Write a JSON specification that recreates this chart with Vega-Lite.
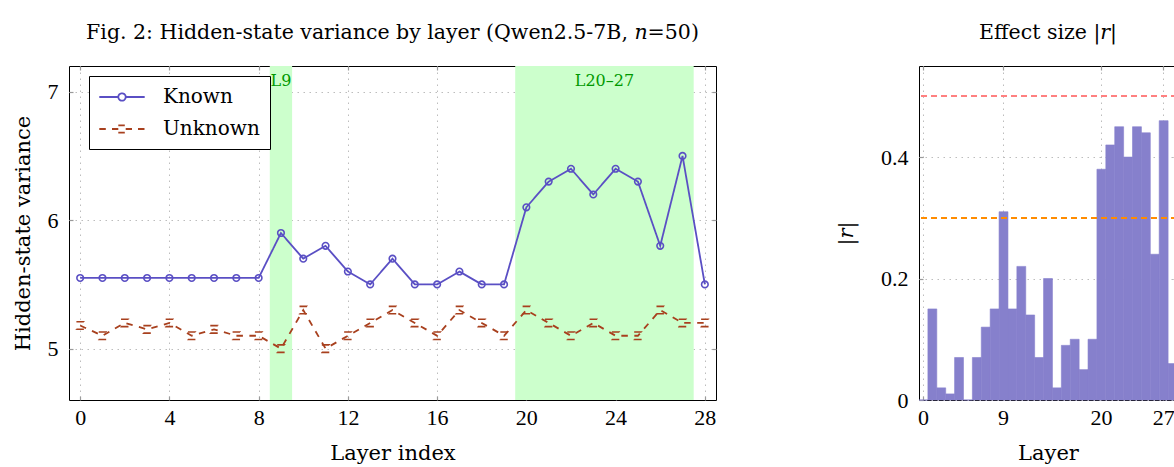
{
  "$schema": "https://vega.github.io/schema/vega-lite/v6.json",
  "background": "white",
  "padding": {"left": 11, "top": 22, "right": 0, "bottom": 0},
  "spacing": 117,
  "datasets": {
    "variance": [
      {"layer": 0, "series": "Known", "value": 5.55},
      {"layer": 1, "series": "Known", "value": 5.55},
      {"layer": 2, "series": "Known", "value": 5.55},
      {"layer": 3, "series": "Known", "value": 5.55},
      {"layer": 4, "series": "Known", "value": 5.55},
      {"layer": 5, "series": "Known", "value": 5.55},
      {"layer": 6, "series": "Known", "value": 5.55},
      {"layer": 7, "series": "Known", "value": 5.55},
      {"layer": 8, "series": "Known", "value": 5.55},
      {"layer": 9, "series": "Known", "value": 5.9},
      {"layer": 10, "series": "Known", "value": 5.7},
      {"layer": 11, "series": "Known", "value": 5.8},
      {"layer": 12, "series": "Known", "value": 5.6},
      {"layer": 13, "series": "Known", "value": 5.5},
      {"layer": 14, "series": "Known", "value": 5.7},
      {"layer": 15, "series": "Known", "value": 5.5},
      {"layer": 16, "series": "Known", "value": 5.5},
      {"layer": 17, "series": "Known", "value": 5.6},
      {"layer": 18, "series": "Known", "value": 5.5},
      {"layer": 19, "series": "Known", "value": 5.5},
      {"layer": 20, "series": "Known", "value": 6.1},
      {"layer": 21, "series": "Known", "value": 6.3},
      {"layer": 22, "series": "Known", "value": 6.4},
      {"layer": 23, "series": "Known", "value": 6.2},
      {"layer": 24, "series": "Known", "value": 6.4},
      {"layer": 25, "series": "Known", "value": 6.3},
      {"layer": 26, "series": "Known", "value": 5.8},
      {"layer": 27, "series": "Known", "value": 6.5},
      {"layer": 28, "series": "Known", "value": 5.5},
      {"layer": 0, "series": "Unknown", "value": 5.18},
      {"layer": 1, "series": "Unknown", "value": 5.1},
      {"layer": 2, "series": "Unknown", "value": 5.2},
      {"layer": 3, "series": "Unknown", "value": 5.15},
      {"layer": 4, "series": "Unknown", "value": 5.2},
      {"layer": 5, "series": "Unknown", "value": 5.1},
      {"layer": 6, "series": "Unknown", "value": 5.15},
      {"layer": 7, "series": "Unknown", "value": 5.1},
      {"layer": 8, "series": "Unknown", "value": 5.1},
      {"layer": 9, "series": "Unknown", "value": 5.0},
      {"layer": 10, "series": "Unknown", "value": 5.3},
      {"layer": 11, "series": "Unknown", "value": 5.0},
      {"layer": 12, "series": "Unknown", "value": 5.1},
      {"layer": 13, "series": "Unknown", "value": 5.2},
      {"layer": 14, "series": "Unknown", "value": 5.3},
      {"layer": 15, "series": "Unknown", "value": 5.2},
      {"layer": 16, "series": "Unknown", "value": 5.1},
      {"layer": 17, "series": "Unknown", "value": 5.3},
      {"layer": 18, "series": "Unknown", "value": 5.2},
      {"layer": 19, "series": "Unknown", "value": 5.1},
      {"layer": 20, "series": "Unknown", "value": 5.3},
      {"layer": 21, "series": "Unknown", "value": 5.2},
      {"layer": 22, "series": "Unknown", "value": 5.1},
      {"layer": 23, "series": "Unknown", "value": 5.2},
      {"layer": 24, "series": "Unknown", "value": 5.1},
      {"layer": 25, "series": "Unknown", "value": 5.1},
      {"layer": 26, "series": "Unknown", "value": 5.3},
      {"layer": 27, "series": "Unknown", "value": 5.2},
      {"layer": 28, "series": "Unknown", "value": 5.2}
    ],
    "regions": [
      {"start": 8.5, "end": 9.5, "label": "L9"},
      {"start": 19.5, "end": 27.5, "label": "L20–27"}
    ],
    "effect": [
      {"layer": 0, "r": 0.0},
      {"layer": 1, "r": 0.15},
      {"layer": 2, "r": 0.02},
      {"layer": 3, "r": 0.01},
      {"layer": 4, "r": 0.07},
      {"layer": 5, "r": 0.0},
      {"layer": 6, "r": 0.07},
      {"layer": 7, "r": 0.12},
      {"layer": 8, "r": 0.15},
      {"layer": 9, "r": 0.31},
      {"layer": 10, "r": 0.15},
      {"layer": 11, "r": 0.22},
      {"layer": 12, "r": 0.14},
      {"layer": 13, "r": 0.07},
      {"layer": 14, "r": 0.2},
      {"layer": 15, "r": 0.02},
      {"layer": 16, "r": 0.09},
      {"layer": 17, "r": 0.1},
      {"layer": 18, "r": 0.05},
      {"layer": 19, "r": 0.1},
      {"layer": 20, "r": 0.38},
      {"layer": 21, "r": 0.42},
      {"layer": 22, "r": 0.45},
      {"layer": 23, "r": 0.4},
      {"layer": 24, "r": 0.45},
      {"layer": 25, "r": 0.44},
      {"layer": 26, "r": 0.24},
      {"layer": 27, "r": 0.46},
      {"layer": 28, "r": 0.06}
    ]
  },
  "hconcat": [
    {
      "width": 647,
      "height": 334,
      "title": {"text": "Fig. 2: Hidden-state variance by layer (Qwen2.5-7B, 𝑛=50)"},
      "resolve": {"axis": {"x": "independent", "y": "independent"}},
      "layer": [
        {
          "data": {"name": "regions"},
          "mark": {"type": "rect", "color": "#ccffcc"},
          "encoding": {
            "x": {"field": "start", "type": "quantitative", "scale": {"domain": [-0.5, 28.5], "nice": false, "zero": false}, "axis": null},
            "x2": {"field": "end"}
          }
        },
        {
          "data": {"name": "regions"},
          "transform": [{"calculate": "(datum.start + datum.end) / 2", "as": "mid"}],
          "mark": {"type": "text", "color": "#009900", "font": "DejaVu Serif", "fontSize": 16, "baseline": "middle"},
          "encoding": {
            "x": {"field": "mid", "type": "quantitative", "axis": null},
            "y": {"datum": 7.08, "type": "quantitative", "axis": null},
            "text": {"field": "label"}
          }
        },
        {
          "data": {"name": "variance"},
          "mark": {"type": "line", "strokeWidth": 1.8},
          "encoding": {
            "x": {"field": "layer", "type": "quantitative", "axis": {"orient": "bottom", "values": [0, 4, 8, 12, 16, 20, 24, 28], "title": "Layer index", "grid": true}},
            "y": {"field": "value", "type": "quantitative", "scale": {"domain": [4.6, 7.2], "nice": false, "zero": false}, "axis": {"orient": "left", "values": [5, 6, 7], "title": "Hidden-state variance", "grid": true}},
            "color": {
              "field": "series", "type": "nominal",
              "scale": {"domain": ["Known", "Unknown"], "range": ["#5a4fc4", "#a8401e"]},
              "legend": {
                "orient": "none", "legendX": 20, "legendY": 10, "title": null,
                "padding": 10, "strokeColor": "black", "fillColor": "white",
                "labelFont": "DejaVu Serif", "labelFontSize": 20, "labelColor": "black",
                "symbolSize": 400, "symbolStrokeWidth": 1.8, "symbolOffset": 12, "labelOffset": 30, "rowPadding": 11,
                "encode": {
                  "symbols": {
                    "update": {
                      "shape": {"signal": "datum.value === 'Known' ? 'M-2.27,0L-0.37,0M0.37,0L2.27,0M-0.37,0A0.37,0.37,0,1,1,0.37,0A0.37,0.37,0,1,1,-0.37,0' : 'M-2.27,0L-1.6,0M-1.0,0L-0.37,0M-0.37,-0.37L0.37,-0.37M-0.37,0.37L0.37,0.37M0.37,0L1.0,0M1.6,0L2.27,0'"},
                      "fill": {"value": "transparent"}
                    }
                  }
                }
              }
            },
            "strokeDash": {
              "field": "series", "type": "nominal",
              "scale": {"domain": ["Known", "Unknown"], "range": [[1, 0], [6.5, 6.5]]},
              "legend": null
            }
          }
        },
        {
          "data": {"name": "variance"},
          "transform": [{"filter": "datum.series === 'Known'"}],
          "mark": {"type": "point", "shape": "circle", "filled": false, "size": 43, "strokeWidth": 1.6, "opacity": 1},
          "encoding": {
            "x": {"field": "layer", "type": "quantitative", "axis": {"orient": "top", "values": [0, 4, 8, 12, 16, 20, 24, 28], "labels": false, "title": null, "grid": false}},
            "y": {"field": "value", "type": "quantitative", "axis": {"orient": "right", "values": [5, 6, 7], "labels": false, "title": null, "grid": false}},
            "color": {"field": "series", "type": "nominal", "legend": null}
          }
        },
        {
          "data": {"name": "variance"},
          "transform": [{"filter": "datum.series === 'Unknown'"}],
          "mark": {"type": "point", "shape": "square", "filled": false, "size": 56, "strokeWidth": 1.6, "opacity": 1, "strokeDash": [7.5, 7.5]},
          "encoding": {
            "x": {"field": "layer", "type": "quantitative", "axis": null},
            "y": {"field": "value", "type": "quantitative", "axis": null},
            "color": {"field": "series", "type": "nominal", "legend": null}
          }
        }
      ]
    },
    {
      "width": 258,
      "height": 334,
      "title": {"text": "Effect size |𝑟|"},
      "data": {"name": "effect"},
      "resolve": {"axis": {"x": "independent", "y": "independent"}},
      "layer": [
        {
          "mark": {"type": "bar", "color": "#8680cc", "stroke": "#8680cc", "strokeWidth": 0.6},
          "encoding": {
            "x": {"field": "layer", "type": "ordinal", "scale": {"paddingInner": 0, "paddingOuter": 0}, "axis": {"orient": "bottom", "values": [0, 9, 20, 27], "labelAngle": 0, "title": "Layer", "grid": true}},
            "y": {"field": "r", "type": "quantitative", "scale": {"domain": [0, 0.55], "nice": false}, "axis": {"orient": "left", "values": [0, 0.2, 0.4], "format": "~g", "title": "|𝑟|", "titlePadding": 24, "grid": true}}
          }
        },
        {
          "mark": {"type": "text", "text": ""},
          "encoding": {
            "x": {"field": "layer", "type": "ordinal", "axis": {"orient": "top", "values": [0, 9, 20, 27], "labels": false, "title": null, "grid": false}},
            "y": {"field": "r", "type": "quantitative", "axis": {"orient": "right", "values": [0, 0.2, 0.4], "labels": false, "title": null, "grid": false}}
          }
        },
        {
          "mark": {"type": "rule", "color": "#ff8080", "strokeDash": [6, 4], "strokeWidth": 1.3},
          "encoding": {"y": {"datum": 0.5, "type": "quantitative", "axis": null}}
        },
        {
          "mark": {"type": "rule", "color": "#ff8c00", "strokeDash": [6, 4], "strokeWidth": 1.3},
          "encoding": {"y": {"datum": 0.3, "type": "quantitative", "axis": null}}
        }
      ]
    }
  ],
  "config": {
    "font": "DejaVu Serif",
    "view": {"stroke": "black", "strokeWidth": 1},
    "axis": {
      "domain": false,
      "gridColor": "#bdbdbd", "gridDash": [1.5, 4.5], "gridWidth": 1,
      "tickColor": "#9a9a9a", "tickSize": -4, "tickWidth": 1.2,
      "labelFont": "Liberation Serif", "labelFontSize": 22, "labelColor": "black", "labelPadding": 11,
      "titleFont": "DejaVu Serif", "titleFontSize": 21, "titleFontWeight": "normal", "titleColor": "black"
    },
    "axisX": {"titlePadding": 14},
    "axisY": {"labelPadding": 15, "titlePadding": 14},
    "title": {"font": "DejaVu Serif", "fontSize": 20.5, "fontWeight": "normal", "color": "black", "offset": 22}
  }
}
